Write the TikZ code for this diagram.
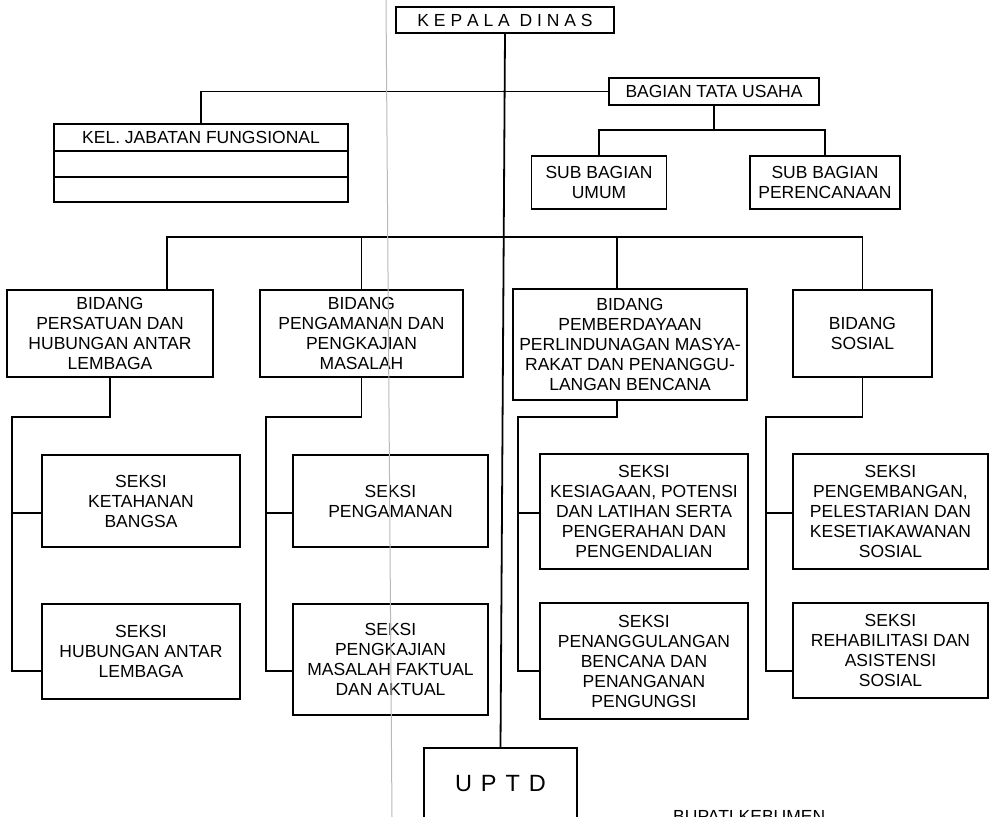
\documentclass[tikz,border=0pt]{standalone}
\usepackage{fontspec}
\setmainfont{Liberation Sans}
\tikzset{
	kotak/.style = {draw, line width = 1.8pt, align = center, inner sep = 0pt, font = \fontsize{17.5}{20}\selectfont},
	garis/.style = {line width = 1.8pt},
}
\begin{document}
\begin{tikzpicture}[x = 1pt, y = -1pt]
	\useasboundingbox (0, 0) rectangle (989, 817);
	\clip (0, 0) rectangle (989, 817);
	% pimpinan dan sekretariat
	\node[kotak, minimum width = 218pt, minimum height = 26pt] (kadis) at (505, 20) {K E P A L A\ \ D I N A S};
	\node[kotak, minimum width = 210pt, minimum height = 27pt] (bagtu) at (714, 91.5) {BAGIAN TATA USAHA};
	\node[kotak, minimum width = 294pt, minimum height = 27pt] (kel) at (201, 137.5) {KEL. JABATAN FUNGSIONAL};
	\node[kotak, minimum width = 294pt, minimum height = 26pt] (kel2) at (201, 164) {};
	\node[kotak, minimum width = 294pt, minimum height = 25pt] (kel3) at (201, 189.5) {};
	\node[kotak, minimum width = 135pt, minimum height = 53pt] (subum) at (599, 182.5) {SUB BAGIAN\\UMUM};
	\node[kotak, minimum width = 150pt, minimum height = 53pt] (subren) at (825, 182.5) {SUB BAGIAN\\PERENCANAAN};
	% bidang
	\node[kotak, minimum width = 206pt, minimum height = 87pt] (bid1) at (110, 333.5) {BIDANG\\PERSATUAN DAN\\HUBUNGAN ANTAR\\LEMBAGA};
	\node[kotak, minimum width = 203pt, minimum height = 87pt] (bid2) at (361.5, 333.5) {BIDANG\\PENGAMANAN DAN\\PENGKAJIAN\\MASALAH};
	\node[kotak, minimum width = 234pt, minimum height = 111pt] (bid3) at (630, 344.5) {BIDANG\\PEMBERDAYAAN\\PERLINDUNAGAN MASYA-\\RAKAT DAN PENANGGU-\\LANGAN BENCANA};
	\node[kotak, minimum width = 139pt, minimum height = 87pt] (bid4) at (862.5, 333.5) {BIDANG\\SOSIAL};
	% seksi
	\node[kotak, minimum width = 198pt, minimum height = 92pt] (s1a) at (141, 501) {SEKSI\\KETAHANAN\\BANGSA};
	\node[kotak, minimum width = 198pt, minimum height = 95pt] (s1b) at (141, 651.5) {SEKSI\\HUBUNGAN ANTAR\\LEMBAGA};
	\node[kotak, minimum width = 195pt, minimum height = 92pt] (s2a) at (390.5, 501) {SEKSI\\PENGAMANAN};
	\node[kotak, minimum width = 195pt, minimum height = 111pt] (s2b) at (390.5, 659.5) {SEKSI\\PENGKAJIAN\\MASALAH FAKTUAL\\DAN AKTUAL};
	\node[kotak, minimum width = 208pt, minimum height = 115pt] (s3a) at (644, 511.5) {SEKSI\\KESIAGAAN, POTENSI\\DAN LATIHAN SERTA\\PENGERAHAN DAN\\PENGENDALIAN};
	\node[kotak, minimum width = 208pt, minimum height = 116pt] (s3b) at (644, 661) {SEKSI\\PENANGGULANGAN\\BENCANA DAN\\PENANGANAN\\PENGUNGSI};
	\node[kotak, minimum width = 195pt, minimum height = 115pt] (s4a) at (890.5, 511.5) {SEKSI\\PENGEMBANGAN,\\PELESTARIAN DAN\\KESETIAKAWANAN\\SOSIAL};
	\node[kotak, minimum width = 195pt, minimum height = 95pt] (s4b) at (890.5, 650.5) {SEKSI\\REHABILITASI DAN\\ASISTENSI\\SOSIAL};
	\node[kotak, minimum width = 153pt, minimum height = 71pt, font = \fontsize{23.5}{26}\selectfont] (uptd) at (500.5, 783.5) {U\hspace{9pt}P\hspace{9pt}T\hspace{9pt}D};
	\node[anchor = base west, inner sep = 0pt, font = \fontsize{17.5}{20}\selectfont] (bupati) at (673, 822.5) {BUPATI KEBUMEN};
	% garis
	\coordinate (tu) at (714, 130);
	\coordinate (j1) at (167, 237);
	\coordinate (j3) at (617, 237);
	\draw[garis] (kadis.south) -- (uptd.north);
	\draw[garis] (kel.north) |- (bagtu.west);
	\draw[garis] (bagtu.south) -- (tu);
	\draw[garis] (subum.north) |- (tu) -| (subren.north);
	\draw[garis] (j1 |- bid1.north) -- (j1) -| (bid4.north);
	\draw[garis] (bid2.north) -- (bid2.north |- j1);
	\draw[garis] (j3) -- (j3 |- bid3.north);
	\foreach \atas/\sa/\sb/\x in {bid1/s1a/s1b/12, bid2/s2a/s2b/266, bid4/s4a/s4b/766}{
		\draw[garis] (\atas.south) |- (\x, 417) -- (\x, 671) -- (\sb.west |- 0, 671);
		\draw[garis] (\x, 513) -- (\sa.west |- 0, 513);}
	\draw[garis] (j3 |- bid3.south) |- (518, 417) -- (518, 671) -- (s3b.west |- 0, 671);
	\draw[garis] (518, 513) -- (s3a.west |- 0, 513);
	% garis pindai
	\draw[gray!55, line width = 1pt] (386, 0) -- (392, 817);
\end{tikzpicture}
\end{document}
